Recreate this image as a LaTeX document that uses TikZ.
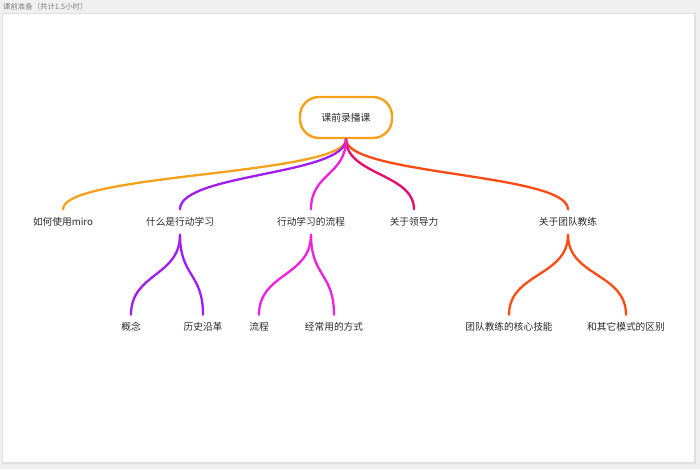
\documentclass[tikz,border=0pt]{standalone}
\usepackage{fontspec}
\newfontfamily\cjk{Noto Sans CJK SC}
\definecolor{cOrange}{HTML}{F7A11A}
\definecolor{cPurple}{HTML}{A21CF2}
\definecolor{cMagenta}{HTML}{F21FE0}
\definecolor{cPink}{HTML}{E8086C}
\definecolor{cRed}{HTML}{FF4A14}
\definecolor{cText}{HTML}{2A2A2A}
\begin{document}
\begin{tikzpicture}[x=1pt,y=-1pt,
  lvl1/.style={font=\cjk\fontsize{9.7}{11}\selectfont, text=cText, inner sep=0pt, minimum height=25pt},
  lvl2/.style={font=\cjk\fontsize{9.7}{11}\selectfont, text=cText, inner sep=0pt, minimum height=24pt},
  link/.style={line width=2.3pt, line cap=round}]
\useasboundingbox (0,0) rectangle (700,469);
\fill[fill={rgb,255:red,240;green,240;blue,240}] (0,0) rectangle (700,469);
\fill[black!12] (2,13) rectangle (696,464);
\fill[white] (3,14) rectangle (694,462);
\node[anchor=west, font=\cjk\fontsize{7.4}{8}\selectfont, text=black!50, inner sep=0pt] (title) at (3,7) {课前准备（共计1.5小时）};
% root
\node[draw=cOrange, line width=2.4pt, rounded corners=19pt, minimum width=92pt, minimum height=41pt, inner sep=0pt,
      font=\cjk\fontsize{9.8}{11}\selectfont, text=cText] (root) at (346,117.5) {课前录播课};
% level 1
\node[lvl1] (miro) at (63,222) {如何使用miro};
\node[lvl1] (what) at (180,222) {什么是行动学习};
\node[lvl1] (flow) at (311,222) {行动学习的流程};
\node[lvl1] (lead) at (414,222) {关于领导力};
\node[lvl1] (coach) at (568,222) {关于团队教练};
% level 2
\node[lvl2] (concept) at (131,327) {概念};
\node[lvl2] (hist) at (203,327) {历史沿革};
\node[lvl2] (proc) at (259,327) {流程};
\node[lvl2] (ways) at (334,327) {经常用的方式};
\node[lvl2] (core) at (509,327) {团队教练的核心技能};
\node[lvl2] (diff) at (626,327) {和其它模式的区别};
% connectors from root
\draw[link, cOrange] (root.south) .. controls +(0,36) and +(0,-36) .. (miro.north);
\draw[link, cRed] (root.south) .. controls +(0,36) and +(0,-36) .. (coach.north);
\draw[link, cPurple] (root.south) .. controls +(0,36) and +(0,-36) .. (what.north);
\draw[link, cPink] (root.south) .. controls +(0,36) and +(0,-36) .. (lead.north);
\draw[link, cMagenta] (root.south) .. controls +(0,36) and +(0,-36) .. (flow.north);
% level 2 connectors
\draw[link, cPurple] (what.south) .. controls +(0,42) and +(0,-42) .. (concept.north);
\draw[link, cPurple] (what.south) .. controls +(0,42) and +(0,-42) .. (hist.north);
\draw[link, cMagenta] (flow.south) .. controls +(0,42) and +(0,-42) .. (proc.north);
\draw[link, cMagenta] (flow.south) .. controls +(0,42) and +(0,-42) .. (ways.north);
\draw[link, cRed] (coach.south) .. controls +(0,42) and +(0,-42) .. (core.north);
\draw[link, cRed] (coach.south) .. controls +(0,42) and +(0,-42) .. (diff.north);
\end{tikzpicture}
\end{document}
